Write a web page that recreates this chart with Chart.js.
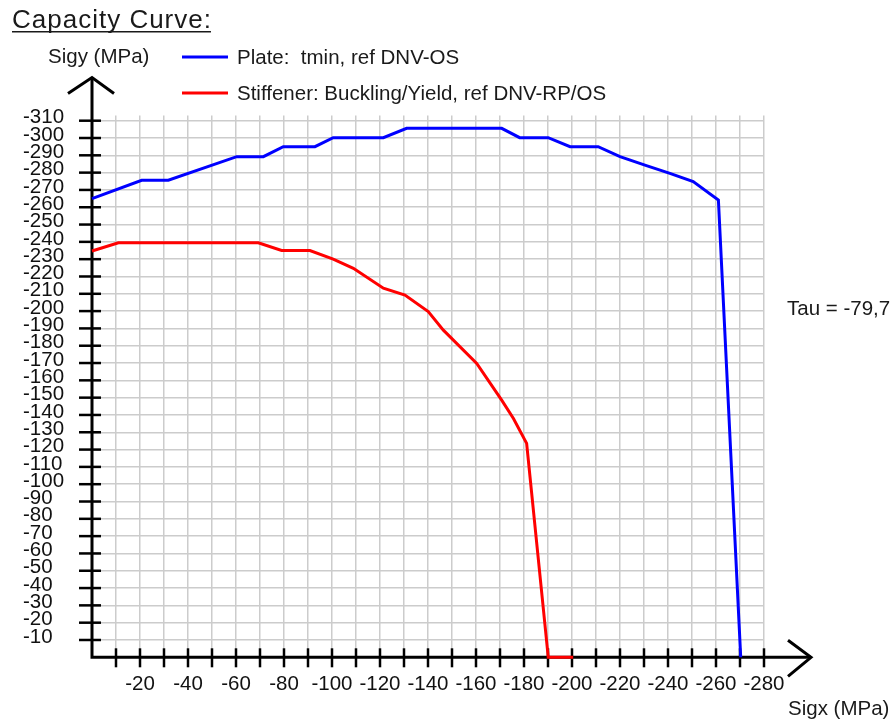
<!DOCTYPE html>
<html>
<head>
<meta charset="utf-8">
<script src="https://cdn.jsdelivr.net/npm/chart.js@4/dist/chart.umd.min.js"></script>
<style>
  html, body { margin: 0; padding: 0; background: #fff; }
  #wrap { width: 895px; height: 719px; }
</style>
</head>
<body>
<div id="wrap"><canvas id="capacityChart" width="895" height="719"></canvas></div>
<script>
// capacity curve values (MPa)
const plateSigx = [0, -20.7, -31.8, -60.3, -71.4, -79.7, -92.9, -100.5, -121.4, -131.1, -170.7, -178.2, -190.1, -199.2, -210.9, -220, -231, -240.8, -250.5, -261, -270.3]
const plateSigy = [-265, -275.6, -275.6, -289.2, -289.2, -295, -295, -300.2, -300.2, -305.6, -305.6, -300.2, -300.2, -295, -295, -289.2, -284, -279.6, -274.8, -264.2, 0]

const stiffSigx = [0, -11, -69.3, -79, -90.8, -100.5, -108.9, -121.4, -130.4, -140.1, -146.4, -160.3, -170.7, -175.6, -181.1, -190.1, -200.5]
const stiffSigy = [-234.7, -239.5, -239.5, -235, -235, -230, -224.7, -213.2, -209.3, -199.7, -189, -169.8, -148.6, -138, -123.6, 0, 0]

const xTickValues = [-10, -20, -30, -40, -50, -60, -70, -80, -90, -100, -110, -120, -130, -140, -150, -160, -170, -180, -190, -200, -210, -220, -230, -240, -250, -260, -270, -280]
const yTickValues = [-10, -20, -30, -40, -50, -60, -70, -80, -90, -100, -110, -120, -130, -140, -150, -160, -170, -180, -190, -200, -210, -220, -230, -240, -250, -260, -270, -280, -290, -300, -310]

const seriesLabels = ['Plate:  tmin, ref DNV-OS', 'Stiffener: Buckling/Yield, ref DNV-RP/OS']
const seriesColors = ['#0000ff', '#ff0000']
const tauText = 'Tau = -79,7'

const FONT = "Arial, 'Liberation Sans', sans-serif"

const toPoints = (xs, ys) => xs.map((x, i) => ({ x: x, y: ys[i] }))

// axes with arrows and tick marks, drawn under the curves
const axesPlugin = {
  id: 'axesArrows',
  beforeDatasetsDraw(chart) {
    const ctx = chart.ctx
    const xs = chart.scales.x, ys = chart.scales.y
    const x0 = xs.getPixelForValue(0)
    const y0 = ys.getPixelForValue(0)
    const top = chart.chartArea.top
    ctx.save()
    ctx.strokeStyle = '#000'
    ctx.lineCap = 'butt'
    // tick marks
    ctx.lineWidth = 2.5
    yTickValues.forEach(v => {
      const p = ys.getPixelForValue(v)
      ctx.beginPath(); ctx.moveTo(x0 - 13, p); ctx.lineTo(x0 + 9, p); ctx.stroke()
    })
    xTickValues.forEach(v => {
      const p = xs.getPixelForValue(v)
      ctx.beginPath(); ctx.moveTo(p, y0 - 9); ctx.lineTo(p, y0 + 10); ctx.stroke()
    })
    // axis lines
    ctx.lineWidth = 3
    ctx.beginPath()
    ctx.moveTo(x0, y0 + 1.5); ctx.lineTo(x0, top - 38)
    ctx.moveTo(x0 - 1.5, y0); ctx.lineTo(chart.chartArea.right + 47, y0)
    ctx.stroke()
    // arrow heads
    ctx.lineJoin = 'miter'
    ctx.beginPath()
    ctx.moveTo(x0 - 24, top - 22); ctx.lineTo(x0, top - 38); ctx.lineTo(x0 + 22, top - 22)
    const ax = chart.chartArea.right + 47
    ctx.moveTo(ax - 23, y0 - 17); ctx.lineTo(ax, y0); ctx.lineTo(ax - 23, y0 + 19)
    ctx.stroke()
    ctx.restore()
  }
}

// title, axis names, legend and tau note
const textPlugin = {
  id: 'captions',
  afterDraw(chart) {
    const ctx = chart.ctx
    ctx.save()
    ctx.fillStyle = '#1a1a1a'
    ctx.textBaseline = 'alphabetic'
    ctx.textAlign = 'left'
    ctx.font = '26px ' + FONT
    ctx.letterSpacing = '1px'
    ctx.fillText('Capacity Curve:', 12, 28)
    const w = ctx.measureText('Capacity Curve:').width
    ctx.letterSpacing = '0px'
    ctx.fillRect(12, 31, w - 1, 1.5)

    ctx.font = '20.5px ' + FONT
    ctx.fillText('Sigy (MPa)', 48, 63)
    ctx.fillText('Sigx (MPa)', 788, 715)
    ctx.fillText(tauText, 787, 315)

    const rows = [57, 93]
    chart.data.datasets.forEach((ds, i) => {
      ctx.strokeStyle = ds.borderColor
      ctx.lineWidth = 3
      ctx.beginPath(); ctx.moveTo(182, rows[i]); ctx.lineTo(228, rows[i]); ctx.stroke()
      ctx.fillStyle = '#1a1a1a'
      ctx.fillText(ds.label, 237, rows[i] + 6.5)
    })
    ctx.restore()
  }
}

const makeChart = () => {
  const ctx = document.getElementById('capacityChart').getContext('2d')
  return new Chart(ctx, {
    type: 'scatter',
    data: {
      datasets: [
        {
          label: seriesLabels[0],
          data: toPoints(plateSigx, plateSigy),
          showLine: true,
          borderColor: seriesColors[0],
          backgroundColor: seriesColors[0],
          borderWidth: 3,
          pointRadius: 0,
          clip: false
        },
        {
          label: seriesLabels[1],
          data: toPoints(stiffSigx, stiffSigy),
          showLine: true,
          borderColor: seriesColors[1],
          backgroundColor: seriesColors[1],
          borderWidth: 3,
          pointRadius: 0,
          clip: false
        }
      ]
    },
    options: {
      responsive: false,
      animation: false,
      layout: { padding: { left: 23, right: 131, top: 115.5, bottom: 21.7 } },
      plugins: {
        legend: { display: false },
        tooltip: { enabled: false }
      },
      scales: {
        x: {
          type: 'linear',
          reverse: true,
          min: -280,
          max: 0,
          afterBuildTicks: scale => { scale.ticks = xTickValues.map(v => ({ value: v })) },
          afterFit: scale => { scale.height = 40 },
          border: { display: false },
          grid: { color: '#cccccc', lineWidth: 1.5, drawTicks: false },
          ticks: {
            autoSkip: false,
            maxRotation: 0,
            padding: 15,
            color: '#111',
            font: { family: FONT, size: 20.5 },
            callback: v => (v % 20 === 0 ? String(v) : '')
          }
        },
        y: {
          type: 'linear',
          reverse: true,
          min: -313,
          max: 0,
          afterBuildTicks: scale => { scale.ticks = yTickValues.map(v => ({ value: v })) },
          afterFit: scale => { scale.width = 69 },
          border: { display: false },
          grid: { color: '#cccccc', lineWidth: 1.5, drawTicks: false },
          ticks: {
            autoSkip: false,
            crossAlign: 'far',
            labelOffset: -3,
            color: '#111',
            font: { family: FONT, size: 20.5 },
            callback: v => String(v)
          }
        }
      }
    },
    plugins: [axesPlugin, textPlugin]
  })
}

const chart = makeChart()
</script>
</body>
</html>
